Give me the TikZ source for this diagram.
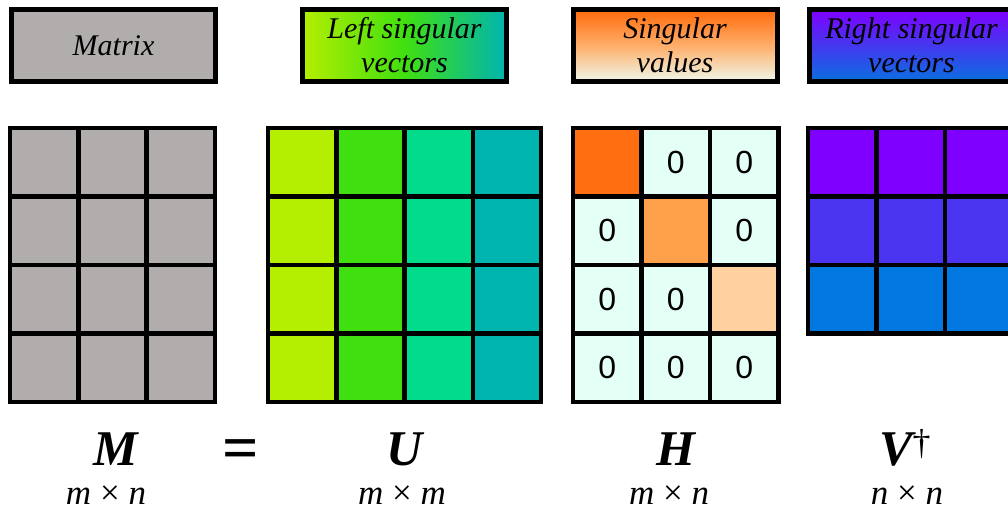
\documentclass[tikz,border=0pt]{standalone}
\usepackage{fontspec}
\setmainfont{Liberation Serif}
\newfontfamily\zerofont{Liberation Sans}
\definecolor{mgray}{HTML}{B0ADAC}
\definecolor{uA}{HTML}{B4EE00}
\definecolor{uB}{HTML}{40E010}
\definecolor{uC}{HTML}{00DC8C}
\definecolor{uD}{HTML}{00B4B0}
\definecolor{hA}{HTML}{FF6E10}
\definecolor{hB}{HTML}{FFA04A}
\definecolor{hC}{HTML}{FFD0A0}
\definecolor{hZ}{HTML}{E4FFF6}
\definecolor{vA}{HTML}{7F00FF}
\definecolor{vB}{HTML}{4C35F0}
\definecolor{vC}{HTML}{0078E0}
\definecolor{sTop}{HTML}{FF6A0A}
\definecolor{sMid}{HTML}{FFAE6A}
\definecolor{sBot}{HTML}{EEF8EA}
\definecolor{rTop}{HTML}{7F00FF}
\definecolor{rBot}{HTML}{0A70E0}
\begin{document}
\begin{tikzpicture}[x=1pt,y=-1pt,
  gridline/.style={line width=4.5pt, line join=miter},
  labelbox/.style={draw, line width=5pt, minimum width=204pt, minimum height=72pt,
    inner sep=0pt, align=center, font=\fontsize{30}{34}\selectfont\itshape},
  bigsym/.style={anchor=base, inner sep=0pt, font=\fontsize{50}{50}\selectfont\bfseries\itshape},
  dimtext/.style={anchor=base, inner sep=0pt, font=\fontsize{35}{35}\selectfont},
  zero/.style={inner sep=0pt, font=\zerofont\fontsize{32}{32}\selectfont}]
\useasboundingbox (0,0) rectangle (1008,513);
\clip (0,0) rectangle (1008,513);

% label boxes
\node[labelbox, fill=mgray] (lm) at (113.5,45.5) {Matrix};
\node[labelbox, left color=uA, right color=uD, middle color=uB] (lu) at (404.5,45.5) {Left singular\\vectors};
\node[labelbox, top color=sTop, bottom color=sBot, middle color=sMid] (lh) at (675,45.5) {Singular\\values};
\node[labelbox, top color=rTop, bottom color=rBot] (lv) at (911.5,45.5) {Right singular\\vectors};

% M grid
\fill[mgray] (10,128) rectangle (215,402);
\foreach \c in {1,2} \draw[gridline] ({10+\c*68.33},128) -- ({10+\c*68.33},402);
\foreach \r in {1,2,3} \draw[gridline] (10,{128+\r*68.5}) -- (215,{128+\r*68.5});
\draw[gridline] (10,128) rectangle (215,402);

% U grid
\foreach \c/\col in {0/uA,1/uB,2/uC,3/uD}
  \fill[\col] ({268+\c*68.25},128) rectangle ++(68.25,274);
\foreach \c in {1,2,3} \draw[gridline] ({268+\c*68.25},128) -- ({268+\c*68.25},402);
\foreach \r in {1,2,3} \draw[gridline] (268,{128+\r*68.5}) -- (541,{128+\r*68.5});
\draw[gridline] (268,128) rectangle (541,402);

% H grid
\fill[hZ] (573,128) rectangle (778.5,402);
\fill[hA] (573,128) rectangle ++(68.5,68.5);
\fill[hB] (641.5,196.5) rectangle ++(68.5,68.5);
\fill[hC] (710,265) rectangle ++(68.5,68.5);
\foreach \c in {1,2} \draw[gridline] ({573+\c*68.5},128) -- ({573+\c*68.5},402);
\foreach \r in {1,2,3} \draw[gridline] (573,{128+\r*68.5}) -- (778.5,{128+\r*68.5});
\draw[gridline] (573,128) rectangle (778.5,402);
\node[zero] (z12) at (675.75,162.25) {0};
\node[zero] (z13) at (744.25,162.25) {0};
\node[zero] (z21) at (607.25,230.75) {0};
\node[zero] (z23) at (744.25,230.75) {0};
\node[zero] (z31) at (607.25,299.25) {0};
\node[zero] (z32) at (675.75,299.25) {0};
\node[zero] (z41) at (607.25,367.75) {0};
\node[zero] (z42) at (675.75,367.75) {0};
\node[zero] (z43) at (744.25,367.75) {0};

% V grid
\foreach \r/\col in {0/vA,1/vB,2/vC}
  \fill[\col] (808,{128+\r*68.5}) rectangle ++(210,68.5);
\foreach \c in {1,2,3} \draw[gridline] ({808+\c*68.5},128) -- ({808+\c*68.5},333.5);
\foreach \r in {1,2} \draw[gridline] (808,{128+\r*68.5}) -- (1018,{128+\r*68.5});
\draw[gridline] (808,128) rectangle (1013.5,333.5);

% bottom labels
\node[bigsym] (sM) at (116,465) {M};
\node[anchor=base, inner sep=0pt, font=\fontsize{64}{64}\selectfont\bfseries] (eq) at (240.5,469) {=};
\node[bigsym] (sU) at (405,465) {U};
\node[bigsym] (sH) at (676,465) {H};
\node[bigsym] (sV) at (905,465) {V{\normalfont\fontsize{36}{36}\selectfont\raisebox{11pt}{†}}};

\node[dimtext] (dM) at (106,504) {\textit{m} × \textit{n}};
\node[dimtext] (dU) at (402,504) {\textit{m} × \textit{m}};
\node[dimtext] (dH) at (669,504) {\textit{m} × \textit{n}};
\node[dimtext] (dV) at (907,504) {\textit{n} × \textit{n}};
\end{tikzpicture}
\end{document}
